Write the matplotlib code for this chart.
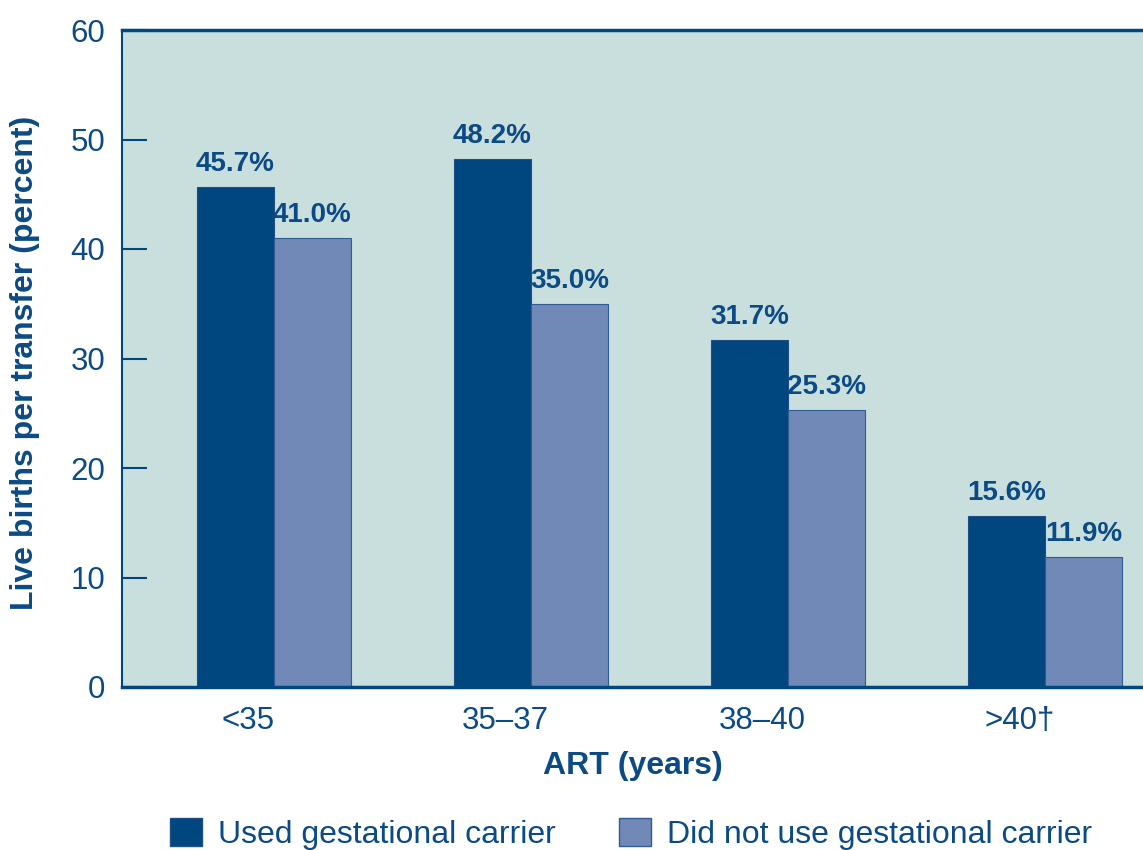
import matplotlib.pyplot as plt
from matplotlib.patches import Patch
import numpy as np

# data
age_groups = ["<35", "35\u201337", "38\u201340", ">40\u2020"]
used_carrier = [45.7, 48.2, 31.7, 15.6]
no_carrier = [41.0, 35.0, 25.3, 11.9]
series_names = ["Used gestational carrier", "Did not use gestational carrier"]

navy = "#00477F"
light = "#7189B7"
bg = "#C9DFDE"
text_col = "#0B4A84"

plt.rcParams['font.family'] = ['Liberation Sans', 'DejaVu Sans']

fig = plt.figure(figsize=(11.43, 8.5), dpi=100)
ax = fig.add_axes([122 / 1143, 1 - 687 / 850, 1 - 122 / 1143, (687 - 30) / 850])
ax.set_facecolor(bg)

x = np.arange(len(age_groups))
w = 0.3
b1 = ax.bar(x - w / 2, used_carrier, w, color=navy, edgecolor="#1F4F86", linewidth=0.8)
b2 = ax.bar(x + w / 2, no_carrier, w, color=light, edgecolor="#2F5C92", linewidth=0.8)

for bars, vals in [(b1, used_carrier), (b2, no_carrier)]:
    for rect, v in zip(bars, vals):
        ax.annotate(f"{v:.1f}%", (rect.get_x() + rect.get_width() / 2, v),
                    xytext=(0, 7), textcoords="offset points",
                    ha="center", va="bottom", fontsize=20, fontweight="bold",
                    color=text_col)

ax.set_xlim(-0.59, 3.381)
ax.set_ylim(0, 60)
ax.set_yticks(range(0, 61, 10))
ax.tick_params(axis="y", direction="in", length=18, width=1.5, color=navy,
               labelsize=22.5, labelcolor=text_col, pad=12)
ax.set_xticks(x - 0.1)
ax.set_xticklabels(age_groups)
ax.tick_params(axis="x", length=0, labelsize=22.5, labelcolor=text_col, pad=14)

ax.spines["right"].set_visible(False)
ax.spines["left"].set_color(navy)
ax.spines["left"].set_linewidth(1.5)
ax.spines["top"].set_color(navy)
ax.spines["top"].set_linewidth(2.5)
ax.spines["bottom"].set_color(navy)
ax.spines["bottom"].set_linewidth(2.5)

fig.text(25 / 1143, 1 - 363 / 850, "Live births per transfer (percent)", rotation=90,
         ha="center", va="center", fontsize=23, fontweight="bold", color=text_col)
fig.text(633 / 1143, 1 - 766 / 850, "ART (years)", ha="center", va="center",
         fontsize=23, fontweight="bold", color=text_col)

handles = [Patch(facecolor=navy, edgecolor="#1F4F86"), Patch(facecolor=light, edgecolor="#2F5C92")]
leg = fig.legend(handles, series_names, loc="center", bbox_to_anchor=(631 / 1143, 1 - 834 / 850),
                 ncol=2, frameon=False, fontsize=23, handlelength=1.0, handleheight=1.0,
                 handletextpad=0.5, columnspacing=2.0, borderpad=0)
for t in leg.get_texts():
    t.set_color(text_col)

fig.savefig("out.png", dpi=100)
